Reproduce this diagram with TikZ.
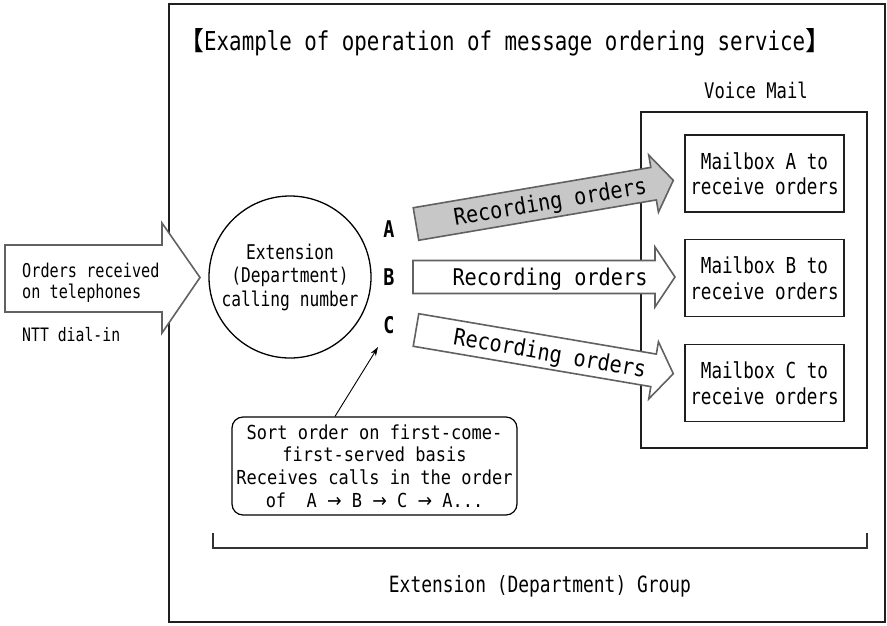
\documentclass[tikz,border=0pt]{standalone}
\usepackage{fontspec}
\setmainfont[FakeStretch=0.8]{DejaVu Sans Mono}
\newfontfamily\recfont[FakeStretch=0.88]{DejaVu Sans Mono}
\newfontfamily\arrfont[FakeStretch=0.9]{DejaVu Sans}
\newfontfamily\cjk{Noto Sans CJK KR}
\newcommand{\rarr}{{\arrfont →}}
\usetikzlibrary{arrows.meta}
\tikzset{
  frame/.style={draw=black!88, line width=2.5pt},
  vmbox/.style={draw=black!88, line width=2pt, minimum width=226pt, minimum height=336pt, inner sep=0pt},
  mbox/.style={draw=black!88, line width=1.8pt, minimum width=159pt, minimum height=77pt, inner sep=0pt, align=center, font=\fontsize{22}{25.5}\selectfont},
  blockarrow/.style={draw=black!62, line width=1.6pt, fill=white, line join=miter},
  graydarrow/.style={blockarrow, fill=black!22},
  lbl/.style={inner sep=0pt},
  abc/.style={inner sep=0pt, font=\fontsize{23}{23}\bfseries\selectfont},
  rec/.style={inner sep=0pt, font=\recfont\fontsize{23}{23}\selectfont, transform shape, anchor=base},
  pointer/.style={draw=black, line width=0.9pt, -{Stealth[length=9pt,width=6pt]}},
  bracketline/.style={draw=black!80, line width=1.2pt},
}
\begin{document}
\begin{tikzpicture}[x=1pt,y=-1pt]
\useasboundingbox (0,0) rectangle (887,625);
% outer frame
\draw[frame] (169,4) rectangle (885,622);
% title
\node[lbl, anchor=base west, font=\fontsize{26}{28}\selectfont] (title) at (178,50) {{\cjk 【}Example of operation of message ordering service{\cjk 】}};
% voice mail
\node[lbl, anchor=base, font=\fontsize{21.5}{23}\selectfont] (vmlabel) at (756,98) {Voice Mail};
\node[vmbox] (vm) at (754,280) {};
\node[mbox] (mA) at (764.5,173.5) {Mailbox A to\\receive orders};
\node[mbox] (mB) at (764.5,278) {Mailbox B to\\receive orders};
\node[mbox] (mC) at (764.5,383) {Mailbox C to\\receive orders};
% input arrow
\draw[blockarrow] (5,245) -- (162,245) -- (162,223) -- (200,277.5) -- (162,333) -- (162,312) -- (5,312) -- cycle;
\node[lbl, anchor=base west, font=\fontsize{19}{21}\selectfont] (in1) at (22,277) {Orders received};
\node[lbl, anchor=base west, font=\fontsize{19}{21}\selectfont] (in2) at (22,298) {on telephones};
\node[lbl, anchor=base west, font=\fontsize{18.5}{21}\selectfont] (ntt) at (22,341) {NTT dial-in};
% circle
\node[draw=black, line width=1.3pt, circle, minimum size=162pt, inner sep=0pt, align=center, font=\fontsize{20.3}{23.5}\selectfont] (ext) at (290,277) {Extension\\(Department)\\calling number};
% labels A B C
\node[abc, anchor=base] (la) at (389,237) {A};
\node[abc, anchor=base] (lb) at (389,285) {B};
\node[abc, anchor=base] (lc) at (389,333) {C};
% arrows
\begin{scope}[shift={(416,224)}, rotate=9.64]
  \draw[graydarrow] (0,-16.5) -- (241,-16.5) -- (241,-29) -- (261,0) -- (241,29) -- (241,16.5) -- (0,16.5) -- cycle;
  \node[rec] (ra) at (136,8.4) {Recording orders};
\end{scope}
\begin{scope}[shift={(413,277)}]
  \draw[blockarrow] (0,-16.5) -- (242,-16.5) -- (242,-30) -- (262,0) -- (242,30) -- (242,16.5) -- (0,16.5) -- cycle;
  \node[rec] (rb) at (137,8.4) {Recording orders};
\end{scope}
\begin{scope}[shift={(416,330)}, rotate=-9.64]
  \draw[blockarrow] (0,-16.5) -- (241,-16.5) -- (241,-29) -- (261,0) -- (241,29) -- (241,16.5) -- (0,16.5) -- cycle;
  \node[rec] (rc) at (136,8.4) {Recording orders};
\end{scope}
% callout
\node[draw=black, line width=1.2pt, rounded corners=11pt, minimum width=285pt, minimum height=98pt, inner sep=0pt, align=center, font=\recfont\fontsize{19.3}{22.7}\selectfont] (callout) at (374.5,466) {Sort order on first-come-\\first-served basis\\Receives calls in the order\\of\ \ A \rarr{} B \rarr{} C \rarr{} A...};
\coordinate (ctip) at (378,347);
\draw[pointer] ([xshift=-39.5pt]callout.north) -- (ctip);
% bracket
\draw[bracketline] (213,533) -- (213,548) -- (867,548) -- (867,533);
\node[lbl, anchor=base, font=\fontsize{22.4}{24}\selectfont] (group) at (540,592) {Extension (Department) Group};
\end{tikzpicture}
\end{document}
